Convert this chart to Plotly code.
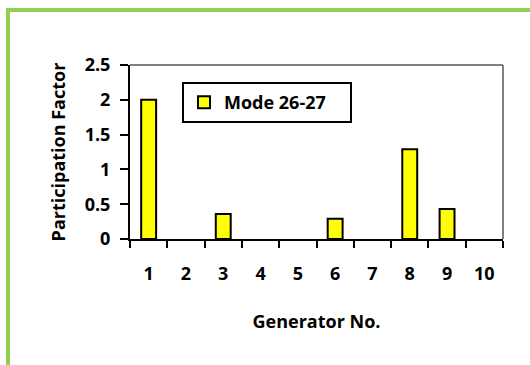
import plotly.graph_objects as go

# Participation factors of each generator in the 26-27 oscillation mode
generators = ["1", "2", "3", "4", "5", "6", "7", "8", "9", "10"]
participation = [2.0, 0, 0.36, 0, 0, 0.29, 0, 1.29, 0.43, 0]
series_name = "Mode 26-27"

W, H = 530, 365
L, R, T, B = 130, 27, 65, 126
pw, ph = W - L - R, H - T - B

FONT = dict(family="Open Sans", size=18, color="black", weight="bold")


def px_x(p):
    return (p - L) / pw


def px_y(p):
    return (H - B - p) / ph


# no outline on empty bars
outline = [2 if v > 0 else 0 for v in participation]

fig = go.Figure()
fig.add_trace(go.Bar(
    x=generators, y=participation, name=series_name,
    marker=dict(color="#FFFF00", line=dict(color="black", width=outline)),
    showlegend=True,
))

shapes = [
    # grey top and right edges of the plot area
    dict(type="line", xref="paper", yref="paper", x0=0, y0=1, x1=1, y1=1,
         line=dict(color="#808080", width=2)),
    dict(type="line", xref="paper", yref="paper", x0=1, y0=0, x1=1, y1=1,
         line=dict(color="#808080", width=2)),
    # green outer frame (top and left sides)
    dict(type="line", xref="paper", yref="paper", x0=px_x(6), y0=px_y(10),
         x1=px_x(532), y1=px_y(10), line=dict(color="#92D050", width=4)),
    dict(type="line", xref="paper", yref="paper", x0=px_x(8), y0=px_y(8),
         x1=px_x(8), y1=px_y(370), line=dict(color="#92D050", width=4)),
]

fig.update_layout(
    width=W, height=H,
    margin=dict(l=L, r=R, t=T, b=B),
    paper_bgcolor="white", plot_bgcolor="white",
    font=FONT,
    bargap=0.6,
    shapes=shapes,
    legend=dict(
        x=px_x(182), y=px_y(82), xanchor="left", yanchor="top",
        orientation="h", entrywidth=121,
        bordercolor="black", borderwidth=2, bgcolor="white",
        font=FONT,
    ),
    xaxis=dict(
        type="category", tickson="boundaries",
        ticks="outside", ticklen=7, tickwidth=2, tickcolor="black",
        showline=True, linecolor="black", linewidth=2,
        showgrid=False, tickfont=FONT, ticklabelstandoff=17,
        title=dict(text="Generator No.", font=FONT, standoff=32),
    ),
    yaxis=dict(
        range=[0, 2.5], dtick=0.5,
        ticks="outside", ticklen=8, tickwidth=2, tickcolor="black",
        showline=True, linecolor="black", linewidth=2,
        showgrid=False, zeroline=False, tickfont=FONT, ticklabelstandoff=6,
        title=dict(text="Participation Factor", font=FONT, standoff=14),
    ),
)

fig.write_html("out.html")
